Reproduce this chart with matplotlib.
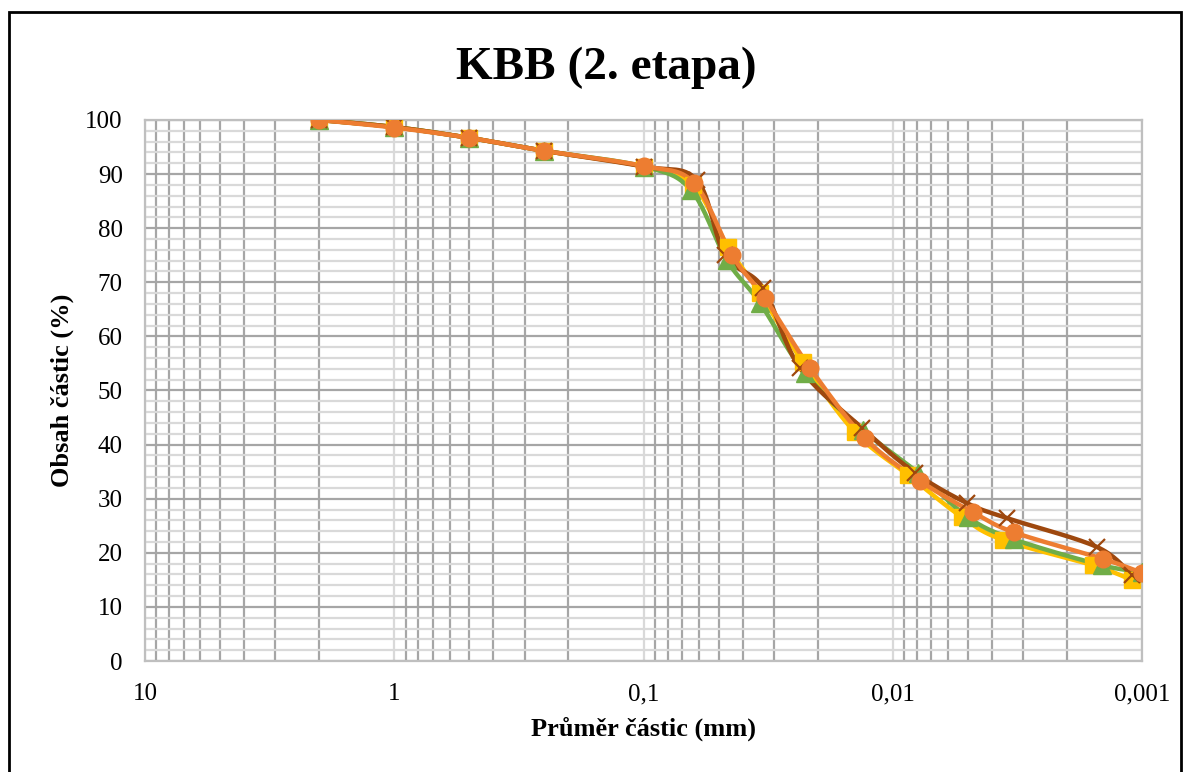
import numpy as np
import matplotlib.pyplot as plt
from matplotlib.ticker import FixedLocator, LogLocator, MultipleLocator, NullFormatter
from matplotlib.patches import Rectangle

plt.rcParams['font.family'] = ['Liberation Serif', 'DejaVu Serif']

# grain size curves (particle diameter in mm, passing in %)
x_yellow = [2, 1, 0.5, 0.25, 0.1, 0.0634, 0.0458, 0.0341, 0.0230, 0.01419, 0.00869, 0.00528, 0.00362, 0.00157, 0.0011]
y_yellow = [100, 98.7, 96.7, 94.3, 91.4, 88.0, 76.5, 68.0, 55.3, 42.3, 34.4, 26.6, 22.4, 17.7, 15.0]
x_green = [2, 1, 0.5, 0.25, 0.1, 0.0646, 0.0463, 0.0341, 0.0225, 0.01318, 0.00793, 0.00500, 0.00327, 0.00145, 0.001]
y_green = [100, 98.7, 96.7, 94.3, 91.4, 87.1, 74.1, 66.2, 53.2, 42.7, 34.8, 26.6, 22.5, 17.7, 16.5]
x_brown = [2, 1, 0.5, 0.25, 0.1, 0.0611, 0.0471, 0.0332, 0.0236, 0.0133, 0.00815, 0.00505, 0.00348, 0.00152, 0.0011]
y_brown = [100, 98.7, 96.7, 94.3, 91.4, 88.9, 75.0, 69.0, 54.2, 43.1, 34.8, 29.2, 26.4, 21.1, 15.9]
x_orange = [2, 1, 0.5, 0.25, 0.1, 0.0628, 0.0442, 0.0326, 0.0215, 0.01294, 0.00778, 0.00477, 0.00327, 0.00144, 0.001]
y_orange = [100, 98.6, 96.7, 94.3, 91.5, 88.4, 75.0, 67.1, 54.2, 41.2, 33.3, 27.5, 23.8, 18.9, 16.3]

x_ticks = [10, 1, 0.1, 0.01, 0.001]
x_labels = ['10', '1', '0,1', '0,01', '0,001']


def smooth(xs, ys, n=20):
    # Catmull-Rom through the points in (log x, y), like Excel's smoothed line
    lx = np.log10(xs)
    p = np.column_stack([lx, ys])
    p = np.vstack([p[0], p, p[-1]])
    out = []
    t = np.linspace(0, 1, n)[:, None]
    for i in range(1, len(p) - 2):
        p0, p1, p2, p3 = p[i - 1], p[i], p[i + 1], p[i + 2]
        seg = 0.5 * ((2 * p1) + (-p0 + p2) * t + (2 * p0 - 5 * p1 + 4 * p2 - p3) * t ** 2
                     + (-p0 + 3 * p1 - 3 * p2 + p3) * t ** 3)
        out.append(seg)
    out = np.vstack(out)
    return 10 ** out[:, 0], out[:, 1]


fig = plt.figure(figsize=(11.84, 7.72), dpi=100)
ax = fig.add_axes([145 / 1184, 111 / 772, 997 / 1184, 541 / 772])

series = [
    (x_yellow, y_yellow, '#FFC000', 's', 12),
    (x_green, y_green, '#70AD47', '^', 13),
    (x_brown, y_brown, '#9E480E', 'x', 11),
    (x_orange, y_orange, '#ED7D31', 'o', 12),
]
for xs, ys, c, m, ms in series:
    sx, sy = smooth(xs, ys)
    ax.plot(sx, sy, color=c, lw=3.2, solid_capstyle='round', zorder=3)
    if m == 'x':
        ax.plot(xs, ys, ls='none', marker=m, color=c, ms=ms, mew=1.6, zorder=4)
    else:
        ax.plot(xs, ys, ls='none', marker=m, color=c, ms=ms, mec=c, zorder=4)

ax.set_xscale('log')
ax.set_xlim(10, 0.001)
ax.set_ylim(0, 100)

ax.xaxis.set_major_locator(FixedLocator(x_ticks))
ax.set_xticklabels(x_labels)
ax.xaxis.set_minor_locator(LogLocator(base=10, subs=np.arange(2, 10)))
ax.xaxis.set_minor_formatter(NullFormatter())
ax.yaxis.set_major_locator(MultipleLocator(10))
ax.yaxis.set_minor_locator(MultipleLocator(2))

ax.grid(which='major', axis='x', color='#D9D9D9', lw=1.6)
ax.grid(which='minor', axis='x', color='#A6A6A6', lw=1.6)
ax.grid(which='major', axis='y', color='#A6A6A6', lw=1.6)
ax.grid(which='minor', axis='y', color='#D9D9D9', lw=1.6)
ax.set_axisbelow(True)

for s in ax.spines.values():
    s.set_color('#BFBFBF')
    s.set_linewidth(1.6)
ax.tick_params(which='both', length=0)
ax.tick_params(axis='x', labelsize=18, pad=16)
ax.tick_params(axis='y', labelsize=18, pad=16)

ax.set_xlabel('Průměr částic (mm)', fontsize=19, fontweight='bold', labelpad=8)
ax.set_ylabel('Obsah částic (%)', fontsize=19, fontweight='bold', labelpad=8)
fig.text(606 / 1184, 1 - 68 / 772, 'KBB (2. etapa)', fontsize=34, fontweight='bold',
         ha='center', va='center')

fig.patches.append(Rectangle((9 / 1184, -0.01), 1172 / 1184, 1 - 12 / 772 + 0.01,
                             transform=fig.transFigure, fill=False, edgecolor='black', lw=2))

fig.savefig('out.png', dpi=100)
